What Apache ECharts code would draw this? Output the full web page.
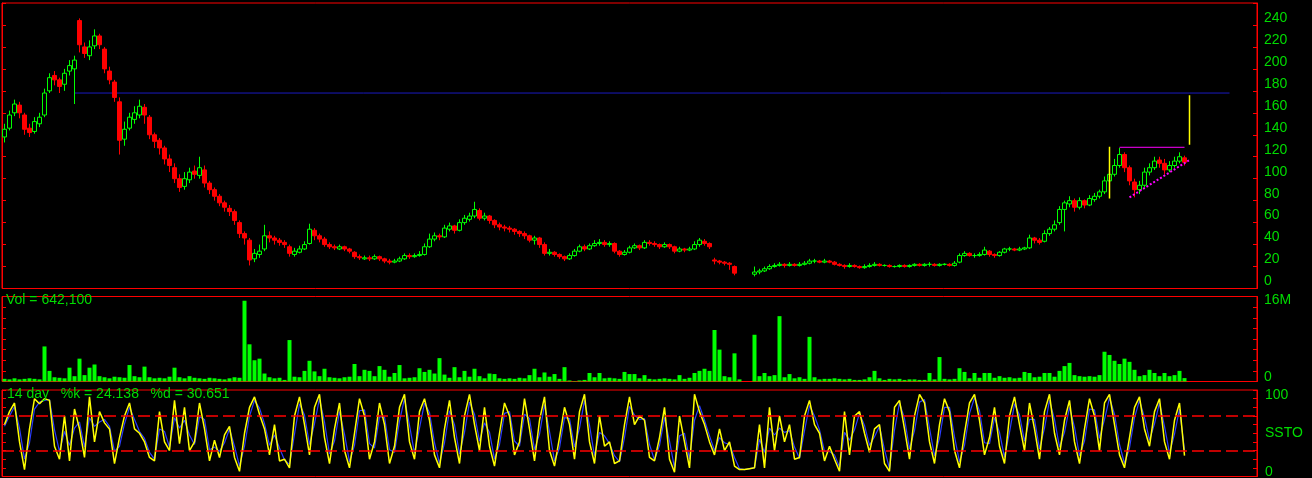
<!DOCTYPE html>
<html><head><meta charset="utf-8">
<script src="https://cdn.jsdelivr.net/npm/echarts@6/dist/echarts.min.js"></script>
<style>html,body{margin:0;padding:0;background:#000}#c{width:1312px;height:478px}</style>
</head><body><div id="c"></div>
<script>
// ---- data (one slot = one period) ----
const opens = [138,146,160,167,158,146,143,150,158,180,
194,190,186,198,200,244,220,212,221,230,
218,198,188,170,136,146,154,158,165,156,
140,135,128,118,110,100,93,99,107,103,
108,96,90,84,78,73,70,60,50,44,
27,31,36,48,46,44,42,38,31,33,
36,41,53,48,45,40,38,36,38,36,
33,29,27,28,27,29,27,25,24,25,
27,30,29,30,31,38,45,48,47,54,
57,53,60,63,66,71,64,66,62,58,
56,55,54,52,50,48,44,46,40,32,
33,31,29,27,30,34,38,36,39,41,
42,40,41,34,31,33,37,39,37,42,
41,40,38,40,38,34,36,35,36,40,
43,41,26,25,24,23,20,null,null,null,
13,15,16,18,20,21,22,21,22,21,
22,23,25,25,24,25,24,22,21,20,
21,20,19,20,21,22,21,21,20,20,
21,20,21,22,21,22,22,21,22,22,
21,24,30,32,30,30,31,34,31,30,
33,36,36,35,36,37,46,44,43,50,
54,60,72,77,80,74,80,76,81,84,
88,98,104,112,122,110,97,90,94,106,
110,117,114,108,112,116,119];
const closes = [145,158,168,160,145,142,152,156,178,192,
190,184,196,203,208,222,214,220,230,222,
200,190,174,135,145,156,160,166,158,140,
134,128,118,112,100,92,100,106,104,110,
96,90,84,78,74,70,62,50,46,26,
32,34,48,46,44,42,40,32,34,36,
40,54,48,45,40,38,37,38,36,34,
29,28,28,27,29,27,25,24,25,27,
30,29,30,31,38,45,48,47,55,57,
53,60,64,66,72,64,66,62,58,56,
55,54,52,50,48,44,46,40,32,33,
31,29,27,30,34,38,36,39,41,42,
40,41,34,31,33,37,39,37,42,41,
40,38,40,38,34,36,35,36,40,44,
41,38,25,24,23,22,14,null,null,null,
15,16,18,20,21,22,21,22,21,22,
23,25,25,24,25,24,22,21,20,21,
20,19,20,21,22,21,21,20,20,21,
20,21,22,21,22,22,21,22,22,21,
23,30,32,30,30,31,35,31,30,33,
36,36,35,36,37,46,44,42,50,54,
58,72,78,80,74,80,76,82,84,88,
98,104,112,122,110,98,90,94,106,110,
116,114,108,112,116,120,115];
const lows = [133,144,157,155,140,138,141,147,156,178,
185,178,180,194,168,215,210,208,218,218,
196,186,170,122,130,144,150,155,150,136,
128,122,113,106,96,88,90,96,100,100,
92,86,80,75,70,66,58,46,40,21,
24,28,34,42,40,39,37,29,29,32,
35,40,44,42,38,36,35,35,34,32,
27,26,26,25,26,25,23,22,23,24,
26,27,28,29,30,37,43,44,46,52,
50,52,58,61,64,62,62,59,55,53,
52,51,49,47,45,42,40,37,30,30,
29,27,25,26,29,33,34,35,38,39,
38,38,32,29,30,32,36,35,36,39,
38,36,37,36,32,33,33,34,35,38,
39,36,22,22,21,17,12,null,null,null,
11,13,15,17,19,20,19,20,20,20,
21,22,23,23,23,23,21,20,18,19,
19,18,18,19,20,20,20,19,19,19,
19,19,20,20,20,20,20,20,21,20,
20,23,29,29,28,29,30,29,28,29,
32,34,34,34,35,36,41,40,42,48,
52,58,52,74,70,72,73,75,79,82,
86,95,102,110,106,94,83,86,92,103,
108,110,104,106,110,114,112];
const highs = [150,162,172,170,160,150,156,160,182,196,
198,192,200,208,212,246,224,226,236,232,
220,202,190,174,152,160,166,172,168,158,
142,137,130,122,114,104,106,110,112,120,
112,98,92,86,80,76,72,62,52,46,
36,40,58,52,48,46,44,40,37,39,
43,59,55,50,47,42,40,40,39,37,
34,31,30,30,31,30,28,27,27,29,
32,32,32,34,41,50,51,50,58,60,
58,63,67,69,79,73,69,67,63,60,
58,57,55,53,52,49,48,47,42,36,
34,32,30,32,36,40,40,41,44,45,
44,43,42,35,35,39,41,40,44,44,
43,41,42,41,39,38,37,38,43,46,
45,42,28,26,25,24,21,null,null,null,
20,18,20,22,23,24,23,24,23,24,
25,27,27,26,27,26,25,23,22,23,
22,21,22,23,24,23,22,22,21,22,
22,22,23,23,23,24,23,23,23,23,
25,32,34,33,32,33,38,35,32,34,
37,38,37,38,38,49,47,46,53,56,
62,75,80,84,82,83,81,85,87,90,
102,108,118,128,124,112,100,98,110,114,
120,120,118,116,120,124,121];
// volume in millions
const volumeM = [0.5,0.4,0.6,0.4,0.5,0.6,0.5,0.4,6.6,2.0,
0.8,0.7,0.6,2.6,1.0,4.3,1.2,2.6,3.2,1.0,
0.8,0.6,0.9,0.8,0.7,3.1,1.0,0.8,2.8,0.8,
0.6,0.7,0.6,0.9,2.6,0.8,0.6,1.0,0.7,0.6,
0.5,0.7,0.6,0.5,0.4,0.6,0.8,0.7,15.2,7.0,
4.0,4.3,1.5,0.8,0.6,0.7,0.3,7.8,0.9,0.8,
2.0,3.9,1.9,1.0,2.4,0.8,0.7,0.6,0.8,0.9,
3.3,1.0,2.2,2.0,1.0,2.9,2.2,0.9,1.6,3.1,
0.6,0.7,0.8,2.5,1.8,2.2,1.5,4.4,1.3,0.7,
2.7,0.8,2.0,0.9,2.4,1.0,0.6,1.5,1.4,0.6,
0.5,0.6,0.5,0.7,0.6,1.2,2.4,0.8,1.7,0.9,
1.4,0.5,2.7,0.2,0.1,0.2,0.3,1.6,0.8,1.6,
0.6,0.7,0.6,0.5,1.8,1.4,1.4,0.6,1.2,0.5,
0.4,0.5,0.6,0.5,0.4,1.2,0.5,0.7,1.6,2.0,
2.4,2.0,9.7,6.0,1.0,0.8,5.3,0.4,0,0,
8.8,1.0,1.6,1.0,1.2,12.3,0.8,1.4,0.6,0.8,
0.5,8.4,0.8,0.4,0.5,0.5,0.6,0.5,0.4,0.5,
0.3,0.3,0.4,0.8,2.0,0.6,0.3,0.5,0.4,0.5,
0.3,0.4,0.4,0.3,0.3,1.6,0.4,4.6,0.5,0.4,
0.5,2.5,1.8,0.6,1.6,0.7,1.6,1.6,0.7,1.0,
0.7,0.8,0.6,0.7,1.8,1.6,0.8,0.9,1.6,1.6,
0.9,2.0,2.9,3.5,1.2,1.0,0.9,1.0,0.9,1.2,
5.6,5.0,3.9,3.3,4.3,3.7,2.2,1.0,1.2,2.2,
1.6,1.0,1.6,1.0,1.2,2.0,0.64];
const stochK = [60,75,85,40,8,55,90,84,90,88,
35,20,70,18,78,55,22,92,40,75,
62,55,15,45,70,85,55,50,40,22,
18,75,40,30,88,38,80,30,40,85,
55,18,42,22,48,58,22,6,50,80,
92,72,55,25,60,18,20,10,70,92,
60,25,80,95,45,15,55,85,30,10,
50,90,70,20,40,85,60,15,35,80,
95,40,20,75,90,65,25,10,55,88,
45,15,70,95,60,30,80,35,12,50,
85,70,25,40,90,55,18,65,92,30,
12,45,80,60,20,75,95,40,15,70,
35,40,15,18,60,92,60,70,65,22,
18,45,80,20,5,70,40,10,95,75,
60,40,25,55,30,40,12,8,8,9,
10,60,10,80,30,70,40,60,20,22,
70,88,60,50,18,35,20,6,75,25,
70,75,50,28,55,60,15,6,80,88,
55,20,70,95,85,40,15,60,90,75,
30,10,50,85,95,65,25,45,80,35,
15,70,92,60,30,85,55,20,75,95,
50,25,65,88,40,15,55,90,70,30,
85,95,60,25,10,45,80,92,55,35,
75,90,40,20,65,85,24.138];
const stochD = [58,70,81,56,20,39,78,86,88,89,
54,29,52,36,56,63,34,68,58,63,
66,58,29,35,61,80,66,52,44,28,
20,55,52,34,68,56,65,48,37,69,
66,31,34,29,39,55,35,12,35,70,
88,79,61,36,48,33,19,14,49,84,
71,37,61,90,63,26,41,75,49,17,
36,76,77,38,33,69,69,31,28,64,
90,59,27,56,85,74,39,15,39,76,
60,26,51,86,72,41,62,51,20,37,
73,75,41,35,72,67,31,49,83,52,
18,33,68,67,34,56,88,59,24,51,
47,38,24,17,45,81,71,66,67,37,
19,36,68,41,10,47,50,20,65,82,
65,47,30,45,39,37,22,9,8,9,
10,43,28,56,48,56,51,53,34,21,
53,82,70,54,29,29,25,11,51,42,
54,73,59,36,46,58,31,9,54,85,
67,32,53,86,89,56,24,44,80,80,
46,17,36,73,91,76,39,38,68,51,
22,51,84,71,41,66,66,32,56,88,
66,34,51,80,57,24,41,78,77,44,
66,91,72,37,15,33,68,88,68,42,
61,85,58,27,49,78,30.651];
const priceTicks = [0,260,20];
const slotCount = 251;
const categories = Array.from({length: slotCount}, (_, i) => 'p' + i);
// annotation lines: [slot, value] pairs
const resistanceLine = [[14,178],[245,178]];
const triangleTop = [[223,128.6],[236,128.6]];
const triangleBase = [[225,83],[237,117]];
const moveA = [[221,82],[221,129]];
const moveB = [[237,131],[237,176]];

// ---- chart ----
const RED = '#ff0000', LBL = '#00dc00', FONT = 'Liberation Sans, Arial, sans-serif';
const candleData = closes.map((c, i) => c == null ? '-' : [opens[i], c, lows[i], highs[i]]);
const volData = volumeM.map(v => v * 1e6);
const grids = [
  {left: 2, right: 55, top: 3, height: 285.5},
  {left: 2, right: 55, top: 296.5, height: 85},
  {left: 2, right: 55, top: 390, height: 86.5}
].map(g => Object.assign(g, {show: true, borderColor: RED, borderWidth: 1, backgroundColor: 'transparent', outerBoundsMode: 'none', containLabel: false}));
const xAxes = [0,1,2].map(g => ({type: 'category', gridIndex: g, data: categories, show: false, boundaryGap: true}));
const tick = {show: true, inside: true, length: 4, lineStyle: {color: RED, width: 1}};
const line = {show: true, lineStyle: {color: RED, width: 1}};
function yPair(g, min, max, interval, label) {
  return [
    {type: 'value', gridIndex: g, position: 'right', min, max, interval, axisLine: line, axisTick: tick,
     splitLine: {show: false}, axisLabel: label},
    {type: 'value', gridIndex: g, position: 'left', min, max, interval, axisLine: line, axisTick: tick,
     splitLine: {show: false}, axisLabel: {show: false}}
  ];
}
const yAxes = [].concat(
  yPair(0, priceTicks[0], priceTicks[1], priceTicks[2], {color: LBL, fontSize: 14, fontFamily: FONT, margin: 7, verticalAlign: 'bottom', lineHeight: 14}),
  yPair(1, 0, 16e6, 2e6, {color: LBL, fontSize: 14, fontFamily: FONT, margin: 7,
    formatter: v => v === 16e6 ? '{t|16M}' : (v === 0 ? '{b|0}' : ''),
    rich: {t: {padding: [8,0,0,0], color: LBL, fontSize: 14, fontFamily: FONT}, b: {padding: [0,0,8,0], color: LBL, fontSize: 14, fontFamily: FONT}}}),
  yPair(2, 0, 100, 10, {color: LBL, fontSize: 14, fontFamily: FONT, margin: 8,
    formatter: v => v === 100 ? '{t|100}' : (v === 50 ? 'SSTO' : (v === 0 ? '{b|0}' : '')),
    rich: {t: {padding: [10,0,0,0], color: LBL, fontSize: 14, fontFamily: FONT}, b: {padding: [0,0,9,0], color: LBL, fontSize: 14, fontFamily: FONT}}})
);
function seg(data, color, type, width, z) {
  return {type: 'line', xAxisIndex: 0, yAxisIndex: 0, data, symbol: 'none', silent: true, z: z || 3,
          lineStyle: {color, width: width || 1, type: type || 'solid'}};
}
const option = {
  backgroundColor: '#000000',
  animation: false,
  title: [
    {text: 'Vol = 642,100', left: 6, top: 293, padding: 0, textStyle: {color: LBL, fontSize: 14, fontWeight: 'normal', fontFamily: FONT}},
    {text: '14 day   %k = 24.138   %d = 30.651', left: 7, top: 387, padding: 0, textStyle: {color: LBL, fontSize: 14, fontWeight: 'normal', fontFamily: FONT}}
  ],
  grid: grids,
  xAxis: xAxes,
  yAxis: yAxes,
  series: [
    seg(resistanceLine, '#1a1ac0', 'solid', 1, 1),
    {type: 'candlestick', xAxisIndex: 0, yAxisIndex: 0, data: candleData, barWidth: 4, z: 2,
     itemStyle: {color: '#000000', color0: '#ff0000', borderColor: '#00ff00', borderColor0: '#ff0000', borderWidth: 1}},
    seg(triangleTop, '#ff00ff', 'solid', 1),
    seg(triangleBase, '#ff00ff', [2,2], 2),
    seg(moveA, '#ffff00', 'solid', 1.5),
    seg(moveB, '#ffff00', 'solid', 1.5),
    {type: 'bar', xAxisIndex: 1, yAxisIndex: 2, data: volData, barWidth: 4, itemStyle: {color: '#00ff00'}, silent: true},
    {type: 'line', xAxisIndex: 2, yAxisIndex: 4, data: stochD, symbol: 'none', silent: true, z: 2,
     lineStyle: {color: '#2a3cff', width: 1.2},
     markLine: {silent: true, symbol: 'none', label: {show: false},
       lineStyle: {color: RED, width: 1.5, type: [12,5]}, data: [{yAxis: 70}, {yAxis: 30}]}},
    {type: 'line', xAxisIndex: 2, yAxisIndex: 4, data: stochK, symbol: 'none', silent: true, z: 3,
     lineStyle: {color: '#ffff00', width: 1.5}}
  ]
};
echarts.init(document.getElementById('c'), null, {renderer: 'canvas'}).setOption(option);
</script></body></html>
